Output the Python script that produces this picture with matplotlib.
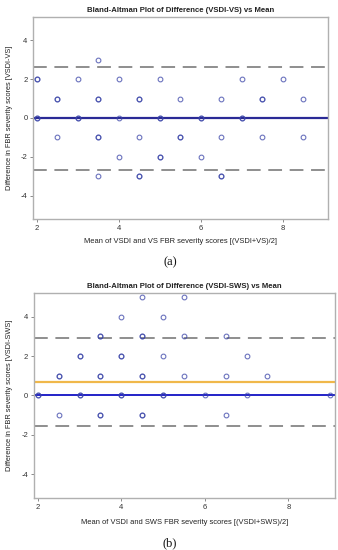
import matplotlib
matplotlib.use("Agg")
import matplotlib.pyplot as plt

# Panel (a): VSDI - VS  (repeated points = overlapping observations)
a_mean = [3.5,
          2, 2, 3, 4, 5, 7, 8,
          2.5, 2.5, 3.5, 3.5, 4.5, 4.5, 5.5, 6.5, 7.5, 7.5, 8.5,
          2, 2, 3, 3, 4, 5, 5, 6, 6, 7, 7,
          2.5, 3.5, 3.5, 4.5, 5.5, 5.5, 6.5, 7.5, 8.5,
          4, 5, 5, 6,
          3.5, 4.5, 4.5, 6.5, 6.5]
a_diff = [3,
          2, 2, 2, 2, 2, 2, 2,
          1, 1, 1, 1, 1, 1, 1, 1, 1, 1, 1,
          0, 0, 0, 0, 0, 0, 0, 0, 0, 0, 0,
          -1, -1, -1, -1, -1, -1, -1, -1, -1,
          -2, -2, -2, -2,
          -3, -3, -3, -3, -3]
a_bias = 0.0
a_upper = 2.65
a_lower = -2.67

# Panel (b): VSDI - SWS
b_mean = [4.5, 5.5,
          4, 5,
          3.5, 3.5, 4.5, 4.5, 5.5, 6.5,
          3, 3, 4, 4, 5, 7,
          2.5, 2.5, 3.5, 3.5, 4.5, 4.5, 5.5, 6.5, 7.5,
          2, 2, 3, 3, 4, 4, 5, 5, 6, 7, 9,
          2.5, 3.5, 3.5, 4.5, 4.5, 6.5]
b_diff = [5, 5,
          4, 4,
          3, 3, 3, 3, 3, 3,
          2, 2, 2, 2, 2, 2,
          1, 1, 1, 1, 1, 1, 1, 1, 1,
          0, 0, 0, 0, 0, 0, 0, 0, 0, 0, 0,
          -1, -1, -1, -1, -1, -1]
b_bias = 0.68
b_upper = 2.92
b_lower = -1.56

xticks = [2, 4, 6, 8]
yticks = [-4, -2, 0, 2, 4]

W, H = 338, 550
fig = plt.figure(figsize=(W / 100, H / 100), dpi=100)

font = ["Liberation Sans", "DejaVu Sans"]
tick_col = "#333333"
frame_col = "#b0b0b0"
marker_col = "#3a44a8"


def panel(rect, xs, ys, bias, upper, lower, xlim, title, xlabel, ylabel,
          bias_col, zero_col, title_y, xlabel_y, caption, caption_y):
    ax = fig.add_axes(rect)
    ax.set_xlim(*xlim)
    ax.set_ylim(-5.2, 5.2)
    for s in ax.spines.values():
        s.set_color(frame_col)
        s.set_linewidth(1.0)
    ax.axhline(upper, color="#707070", lw=1.1, dashes=(9, 5), zorder=2)
    ax.axhline(lower, color="#707070", lw=1.1, dashes=(9, 5), zorder=2)
    if zero_col is not None:
        ax.axhline(0, color=zero_col, lw=1.4, zorder=2)
    ax.axhline(bias, color=bias_col, lw=1.6, zorder=2)
    ax.plot(xs, ys, linestyle="none", marker="o", markersize=3.4,
            markerfacecolor="none", markeredgecolor=marker_col,
            markeredgewidth=0.8, alpha=0.75, zorder=3, clip_on=False)
    ax.set_xticks(xticks)
    ax.set_yticks(yticks)
    ax.set_xticklabels([str(v) for v in xticks], fontsize=5.5,
                       color=tick_col, family=font)
    ax.set_yticklabels([str(v) for v in yticks], fontsize=5.5,
                       color=tick_col, family=font)
    ax.tick_params(direction="out", length=2.5, width=0.6, color="#777777",
                   pad=1.5)
    cx = rect[0] + rect[2] / 2
    fig.text(cx, 1 - title_y / H, title, ha="center", va="center",
             fontsize=5.6, fontweight="bold", color="#222222", family=font)
    fig.text(cx, 1 - xlabel_y / H, xlabel, ha="center", va="center",
             fontsize=5.4, color="#222222", family=font)
    yc = rect[1] + rect[3] / 2
    fig.text(10 / W, yc, ylabel, ha="center", va="center", rotation=90,
             fontsize=5.3, color="#222222", family=font)
    fig.text(170 / W, 1 - caption_y / H, caption, ha="center", va="center",
             fontsize=9, color="#111111", family=["Liberation Serif", "DejaVu Serif"])
    return ax


panel([33 / W, 1 - 219 / H, 295 / W, 202 / H], a_mean, a_diff,
      a_bias, a_upper, a_lower, (1.91, 9.1),
      "Bland-Altman Plot of Difference (VSDI-VS) vs Mean",
      "Mean of VSDI and VS FBR severity scores [(VSDI+VS)/2]",
      "Difference in FBR severity scores [VSDI-VS]",
      "#2a2a96", None, 11, 242, "(a)", 262)

panel([33.7 / W, 1 - 498 / H, 301.3 / W, 205 / H], b_mean, b_diff,
      b_bias, b_upper, b_lower, (1.9, 9.12),
      "Bland-Altman Plot of Difference (VSDI-SWS) vs Mean",
      "Mean of VSDI and SWS FBR severity scores [(VSDI+SWS)/2]",
      "Difference in FBR severity scores [VSDI-SWS]",
      "#f0b84a", "#2222c8", 286, 523, "(b)", 543)

fig.savefig("out.png", dpi=100)
